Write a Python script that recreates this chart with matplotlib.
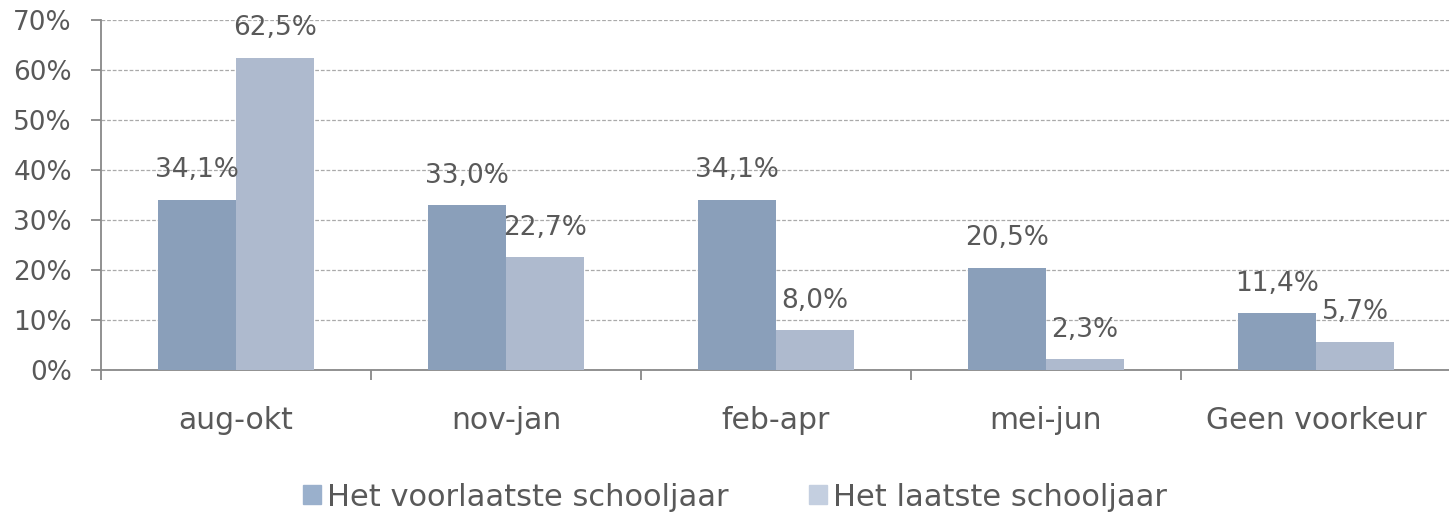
import numpy as np
import matplotlib.pyplot as plt

categories = ["aug-okt", "nov-jan", "feb-apr", "mei-jun", "Geen voorkeur"]
voorlaatste = [34.1, 33.0, 34.1, 20.5, 11.4]
laatste = [62.5, 22.7, 8.0, 2.3, 5.7]
series_names = ["Het voorlaatste schooljaar", "Het laatste schooljaar"]

txt = "#595959"
plt.rcParams['font.family'] = ['DejaVu Sans']

fig = plt.figure(figsize=(14.49, 5.16), dpi=100)
ax = fig.add_axes([101/1449, 1 - 370/516, 1350/1449, 350/516])

x = np.arange(len(categories))
w = 0.289
b1 = ax.bar(x - w/2, voorlaatste, w, color="#8a9fba", label=series_names[0], zorder=3)
b2 = ax.bar(x + w/2, laatste, w, color="#aebace", label=series_names[1], zorder=3)

for bars, vals in ((b1, voorlaatste), (b2, laatste)):
    for r, v in zip(bars, vals):
        ax.text(r.get_x() + r.get_width()/2, v + 3.2, f"{v:.1f}%".replace(".", ","),
                ha="center", va="bottom", fontsize=19, color=txt)

ax.set_xlim(-0.5, len(categories) - 0.5)
ax.set_ylim(0, 70)
ax.set_yticks(np.arange(0, 71, 10))
ax.set_yticklabels([f"{t}%" for t in range(0, 71, 10)])
ax.set_xticks(x)
ax.set_xticklabels(categories)
ax.set_xticks(np.arange(-0.5, len(categories), 1), minor=True)
ax.tick_params(axis="x", which="major", length=0, pad=26, labelsize=21.5, labelcolor=txt)
ax.tick_params(axis="x", which="minor", length=7, width=1.3, color="#888888")
ax.tick_params(axis="y", length=7, width=1.3, color="#888888", labelsize=19, labelcolor=txt, pad=14)

ax.grid(axis="y", color="#aaaaaa", linestyle=(0, (3, 1.5)), linewidth=0.9, zorder=0)
for s in ("top", "right"):
    ax.spines[s].set_visible(False)
for s in ("left", "bottom"):
    ax.spines[s].set_color("#888888")
    ax.spines[s].set_linewidth(1.3)

leg = fig.legend(handles=[b1, b2], loc="center", bbox_to_anchor=(735/1449, 1 - 497/516),
                 ncol=2, frameon=False, fontsize=22, handlelength=0.6, handleheight=0.6,
                 handletextpad=0.2, columnspacing=2.6, labelcolor=txt)
leg.legend_handles[0].set_color("#9ab0cc")
leg.legend_handles[1].set_color("#c4cfe0")

fig.savefig("out.png", dpi=100)
